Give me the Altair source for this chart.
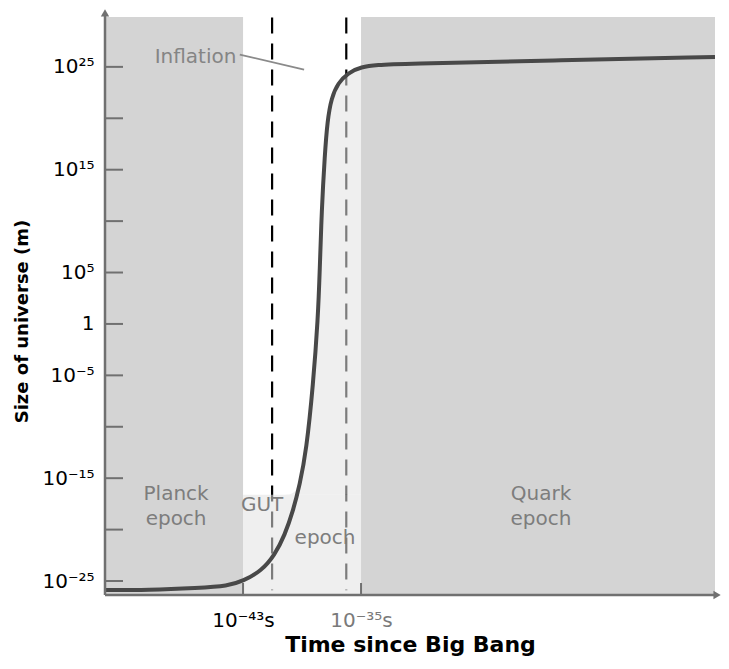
import altair as alt
import pandas as pd

# ---------------- data (log10 units) ----------------
x_domain = [-52.36, -11.0]      # log10(time since Big Bang / s)
y_domain = [-26.36, 29.85]      # log10(size of universe / m)

# shaded epochs (grey)
band_start = [-52.36, -35.0]
band_end = [-43.0, -11.0]

# GUT epoch light overlay (lower part)
gut_start = [-43.0]
gut_end = [-35.0]
gut_top = [-16.6]

# dashed markers
dash_x = [-41.03, -36.0]
dash_lo = [-25.9, -25.9]
dash_hi = [29.8, 29.8]

# size-of-universe curve
curve_t = [-52.36, -49.44, -46.05, -44.02, -43.0, -41.76, -40.85, -40.17, -39.61,
           -39.16, -38.71, -38.25, -37.92, -37.80, -37.67, -37.46, -37.28, -37.01,
           -36.56, -35.88, -35.0, -33.85, -32.49, -22.0, -11.0]
curve_s = [-25.88, -25.88, -25.68, -25.49, -25.0, -24.03, -22.47, -20.53, -18.19,
           -15.66, -12.35, -5.93, 0.58, 5.16, 11.0, 16.44, 19.75, 21.98,
           23.44, 24.42, 25.0, 25.19, 25.29, 25.62, 25.96]

# axis ticks / labels
y_tick_values = [-25, -20, -15, -10, -5, 0, 5, 10, 15, 20, 25]
y_tick_len_end = [-51.14]
y_label_values = [25, 15, 5, 0, -5, -15, -25]
y_label_texts = ["10²⁵", "10¹⁵", "10⁵", "1", "10⁻⁵", "10⁻¹⁵", "10⁻²⁵"]
x_tick_values = [-43, -35]
x_tick_top = [-25.19]
x_label_texts = ["10⁻⁴³s", "10⁻³⁵s"]

# axis line ends / arrows
y_axis_top = [30.0]
x_axis_right = [-10.95]
arrow_x = [-52.36, -10.86]
arrow_y = [30.24, -26.36]
arrow_shape = ["triangle-up", "triangle-right"]

# annotations
label_texts = ["Planck", "epoch", "GUT", "epoch", "Quark", "epoch"]
label_x = [-47.54, -47.54, -41.71, -37.44, -22.80, -22.80]
label_y = [-17.12, -19.55, -18.19, -21.40, -17.12, -19.55]

inflation_text = ["Inflation"]
inflation_x = [-46.22]
inflation_y = [25.39]
pointer_x = [-43.22]
pointer_x2 = [-38.86]
pointer_y = [26.2]
pointer_y2 = [24.74]

FONT = "DejaVu Sans"
AXIS_COLOR = "#707070"


def label_expr(values, texts):
    expr = "''"
    for v, t in reversed(list(zip(values, texts))):
        expr = f"datum.value == {v} ? '{t}' : {expr}"
    return expr


xs = alt.Scale(domain=x_domain, nice=False, zero=False)
ys = alt.Scale(domain=y_domain, nice=False, zero=False)

x_axis = alt.Axis(
    values=x_tick_values, labelExpr=label_expr(x_tick_values, x_label_texts),
    domain=False, ticks=False, tickSize=0, grid=False,
    labelFont=FONT, labelFontSize=20, labelPadding=31, labelBaseline="alphabetic",
    labelColor={"condition": {"test": "datum.value == -35", "value": "#7a7a7a"}, "value": "black"},
    labelFlush=False, labelOverlap=False,
    title="Time since Big Bang", titleFont=FONT, titleFontSize=22, titleFontWeight="bold",
    titleColor="black", titleY=56, titleBaseline="alphabetic",
)
y_axis = alt.Axis(
    values=y_label_values, labelExpr=label_expr(y_label_values, y_label_texts),
    domain=False, ticks=False, tickSize=0, grid=False,
    labelFont=FONT, labelFontSize=20, labelPadding=11, labelColor="black",
    labelBaseline="middle", labelFlush=False, labelOverlap=False,
    title="Size of universe (m)", titleFont=FONT, titleFontSize=18, titleFontWeight="bold",
    titleColor="black", titleAngle=270, titleX=-78, titleY=304,
    titleAlign="center", titleBaseline="alphabetic",
)


def X(field):
    return alt.X(field, scale=xs, axis=x_axis)


def Y(field):
    return alt.Y(field, scale=ys, axis=y_axis)


bands_df = pd.DataFrame({"start": band_start, "end": band_end,
                         "lo": [y_domain[0]] * 2, "hi": [y_domain[1]] * 2})
bands = alt.Chart(bands_df).mark_rect(color="#d4d4d4").encode(
    x=X("start:Q"), x2="end:Q", y=Y("lo:Q"), y2="hi:Q",
)

dash_df = pd.DataFrame({"t": dash_x, "lo": dash_lo, "hi": dash_hi})
dashes = alt.Chart(dash_df).mark_rule(color="black", strokeWidth=2.2, strokeDash=[16, 10]).encode(
    x=X("t:Q"), y=Y("hi:Q"), y2="lo:Q",
)

gut_df = pd.DataFrame({"start": gut_start, "end": gut_end,
                       "lo": [y_domain[0]], "hi": gut_top})
gut_rect = alt.Chart(gut_df).mark_rect(color="#e2e2e2", opacity=0.55).encode(
    x=X("start:Q"), x2="end:Q", y=Y("lo:Q"), y2="hi:Q",
)

curve_df = pd.DataFrame({"t": curve_t, "s": curve_s})
gut_area = alt.Chart(curve_df).transform_filter(
    f"datum.t >= {gut_start[0]} && datum.t <= {gut_end[0]}"
).transform_calculate(
    top=f"max(datum.s, {gut_top[0]})", base=f"{gut_top[0]}"
).mark_area(color="#e2e2e2", opacity=0.55, interpolate="basis").encode(
    x=X("t:Q"), y=Y("top:Q"), y2="base:Q",
)

curve = alt.Chart(curve_df).mark_line(color="#484848", strokeWidth=4, interpolate="basis").encode(
    x=X("t:Q"), y=Y("s:Q"),
)

axis_df = pd.DataFrame({"x": [x_domain[0], x_domain[0]], "x2": [x_domain[0], x_axis_right[0]],
                        "y": [y_domain[0], y_domain[0]], "y2": [y_axis_top[0], y_domain[0]]})
axis_lines = alt.Chart(axis_df).mark_rule(color=AXIS_COLOR, strokeWidth=2.5).encode(
    x=X("x:Q"), x2="x2:Q", y=Y("y:Q"), y2="y2:Q",
)

ytick_df = pd.DataFrame({"v": y_tick_values})
ytick_df["x0"] = x_domain[0]
ytick_df["x1"] = y_tick_len_end[0]
yticks = alt.Chart(ytick_df).mark_rule(color=AXIS_COLOR, strokeWidth=2).encode(
    x=X("x0:Q"), x2="x1:Q", y=Y("v:Q"),
)

xtick_df = pd.DataFrame({"v": x_tick_values})
xtick_df["y0"] = y_domain[0]
xtick_df["y1"] = x_tick_top[0]
xticks = alt.Chart(xtick_df).mark_rule(color=AXIS_COLOR, strokeWidth=2).encode(
    x=X("v:Q"), y=Y("y0:Q"), y2="y1:Q",
)

arrow_df = pd.DataFrame({"x": arrow_x, "y": arrow_y, "shape": arrow_shape})
arrows = alt.Chart(arrow_df).mark_point(filled=True, color=AXIS_COLOR, size=70, opacity=1).encode(
    x=X("x:Q"), y=Y("y:Q"), shape=alt.Shape("shape:N", scale=None),
)

lab_df = pd.DataFrame({"text": label_texts, "x": label_x, "y": label_y})
labels = alt.Chart(lab_df).mark_text(font=FONT, fontSize=20, color="#7d7d7d",
                                     align="center", baseline="alphabetic").encode(
    x=X("x:Q"), y=Y("y:Q"), text="text:N",
)

pointer_df = pd.DataFrame({"x": pointer_x, "x2": pointer_x2, "y": pointer_y, "y2": pointer_y2})
pointer = alt.Chart(pointer_df).mark_rule(color="#8a8a8a", strokeWidth=1.8).encode(
    x=X("x:Q"), x2="x2:Q", y=Y("y:Q"), y2="y2:Q",
)

infl_df = pd.DataFrame({"text": inflation_text, "x": inflation_x, "y": inflation_y})
inflation = alt.Chart(infl_df).mark_text(font=FONT, fontSize=20, color="#858585",
                                         align="center", baseline="alphabetic").encode(
    x=X("x:Q"), y=Y("y:Q"), text="text:N",
)

chart = alt.layer(
    bands, dashes, gut_rect, gut_area, curve, axis_lines, yticks, xticks, arrows,
    labels, pointer, inflation,
).properties(
    width=610, height=578,
    padding={"left": 97, "top": 9, "right": 6, "bottom": 62},
    autosize=alt.AutoSizeParams(type="none"),
    background="white",
).configure_view(stroke=None)

chart.save("out.html", embed_options={"renderer": "svg", "actions": False})
